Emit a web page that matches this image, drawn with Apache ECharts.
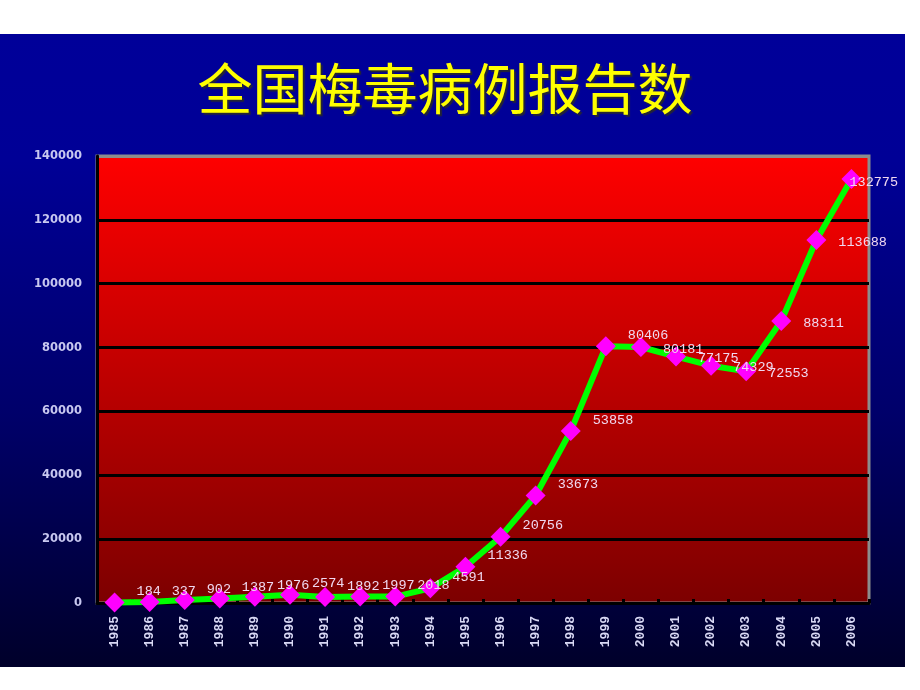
<!DOCTYPE html>
<html>
<head>
<meta charset="utf-8">
<script src="https://cdn.jsdelivr.net/npm/echarts@6/dist/echarts.min.js"></script>
<style>
html,body{margin:0;padding:0;background:#ffffff;}
#chart{width:920px;height:690px;}
</style>
</head>
<body>
<div id="chart"></div>
<script>
const titleText = '全国梅毒病例报告数';
const categories = ['1985','1986','1987','1988','1989','1990','1991','1992','1993','1994','1995','1996','1997','1998','1999','2000','2001','2002','2003','2004','2005','2006'];
const cases = [184,337,902,1387,1976,2574,1892,1997,2018,4591,11336,20756,33673,53858,80406,80181,77175,74329,72553,88311,113688,132775];
const yMin = 0, yMax = 140000, yStep = 20000;

const chart = echarts.init(document.getElementById('chart'));

const seriesData = cases.map(function (v, i) {
  let off = i <= 14 ? [0, -11] : [0, 2];
  if (i === cases.length - 1) off = [-24, 3];
  return { value: v, label: { offset: off } };
});

const option = {
  backgroundColor: '#ffffff',
  animation: false,
  graphic: [
    {
      type: 'rect', z: -10, silent: true,
      shape: { x: 0, y: 34, width: 905, height: 633 },
      style: {
        fill: new echarts.graphic.LinearGradient(0, 0, 0, 1, [
          { offset: 0, color: '#000099' },
          { offset: 0.2, color: '#000096' },
          { offset: 0.6, color: '#00006a' },
          { offset: 1, color: '#00002a' }
        ])
      }
    },
    {
      type: 'text', z: 10,
      x: 445, y: 88,
      style: {
        text: titleText,
        fill: '#ffff00',
        font: 'normal 55px "Noto Sans CJK SC"',
        textAlign: 'center',
        textVerticalAlign: 'middle',
        textShadowColor: 'rgba(40,40,40,0.9)',
        textShadowOffsetX: 2,
        textShadowOffsetY: 2,
        textShadowBlur: 1
      }
    }
  ],
  grid: {
    left: 97, right: 51, top: 156, bottom: 87,
    show: true,
    borderColor: '#8c8c8c',
    borderWidth: 3,
    backgroundColor: new echarts.graphic.LinearGradient(0, 0, 0, 1, [
      { offset: 0, color: '#ff0000' },
      { offset: 1, color: '#7c0000' }
    ])
  },
  xAxis: {
    type: 'category',
    data: categories,
    boundaryGap: true,
    axisLine: { show: true, lineStyle: { color: '#000000', width: 3 } },
    axisTick: { show: true, inside: true, length: 4, lineStyle: { color: '#000000', width: 3 } },
    axisLabel: {
      rotate: 90,
      interval: 0,
      margin: 13,
      color: '#d8d8f4',
      fontFamily: 'Liberation Mono',
      fontWeight: 'bold',
      fontSize: 13
    },
    splitLine: { show: false }
  },
  yAxis: {
    type: 'value',
    min: yMin, max: yMax, interval: yStep,
    axisLine: { show: true, lineStyle: { color: '#000000', width: 3 } },
    axisTick: { show: false },
    axisLabel: {
      margin: 15,
      color: '#c8c8f0',
      fontFamily: 'DejaVu Sans',
      fontWeight: 'bold',
      fontSize: 11.5,
      formatter: function (v) { return String(v); }
    },
    splitLine: {
      show: true,
      lineStyle: {
        color: ['#000000','#000000','#000000','#000000','#000000','#000000','#000000','#8c8c8c'],
        width: 3
      }
    }
  },
  series: [{
    type: 'line',
    data: seriesData,
    symbol: 'diamond',
    symbolSize: 20,
    lineStyle: { color: '#00ff00', width: 6 },
    itemStyle: { color: '#ff00ff', borderWidth: 0 },
    label: {
      show: true,
      position: 'right',
      distance: 12,
      color: '#f0d8f0',
      fontFamily: 'Liberation Mono',
      fontSize: 13.5
    },
    z: 5
  }]
};
chart.setOption(option);
</script>
</body>
</html>
